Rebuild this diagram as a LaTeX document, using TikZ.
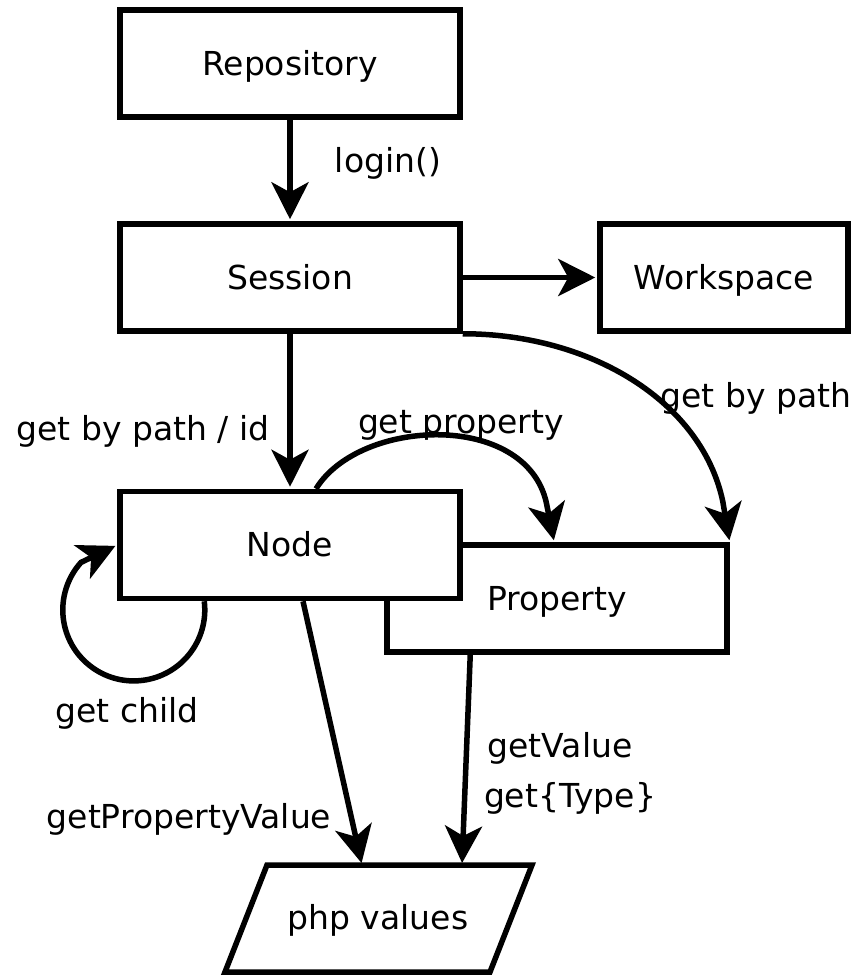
\documentclass[tikz,border=0pt]{standalone}
\usepackage{fontspec}
\setmainfont{DejaVu Sans}
\usetikzlibrary{arrows.meta,calc}
\begin{document}
\begin{tikzpicture}[x=1pt,y=-1pt,
  every node/.style={font=\fontsize{33}{40}\selectfont, text height=23pt, text depth=0pt},
  box/.style={draw, line width=5.5pt, minimum width=340pt, minimum height=107pt, inner sep=0pt, fill=white},
  conn/.style={line width=5.5pt, shorten >=2pt, -{Stealth[length=37pt,width=37pt,inset=10pt]}},
  lbl/.style={inner sep=0pt}]
\useasboundingbox (0,0) rectangle (860,975);
% boxes
\node[box] (repo) at (290,63.5) {Repository};
\node[box] (session) at (290,277.5) {Session};
\node[box, minimum width=248pt] (ws) at (724,277.5) {Workspace};
\node[box] (prop) at (557,598.5) {Property};
\node[box] (node) at (290,545) {Node};
% php values parallelogram
\coordinate (phpTL) at (267,865);
\coordinate (phpTR) at (532,865);
\coordinate (phpBR) at (490,972);
\coordinate (phpBL) at (225,972);
\draw[line width=5.5pt, line join=miter] (phpTL) -- (phpTR) -- (phpBR) -- (phpBL) -- cycle;
\node[lbl] (php) at (378,918) {php values};
% connectors
\draw[conn] (repo.south) -- (session.north);
\draw[conn] (session.east) -- (ws.west);
\draw[conn] (session.south) -- (node.north);
\draw[conn] (session.south east) .. controls +(129,0) and +(-21,-99) .. ($(prop.north east)+(-7,-41)$) -- (prop.north east);
\draw[conn] ($(node.north)+(26,0)$) .. controls +(44,-71) and +(-21,-91) .. ($(prop.north west)+(162,-40)$) -- ($(prop.north west)+(170,0)$);
\draw[conn] ($(node.south west)+(87,0)$) arc[start angle=-7, end angle=222, radius=71] -- (node.west);
\draw[conn] ($(node.south)+(13,0)$) -- ($(phpTL)+(95,0)$);
\draw[conn] ($(prop.south west)+(86,0)$) -- ($(phpTL)+(195,0)$);
% labels
\node[lbl] (l1) at (388,161) {login()};
\node[lbl] (l2) at (143,429) {get by path / id};
\node[lbl] (l3) at (461,422) {get property};
\node[lbl] (l4) at (756,396) {get by path};
\node[lbl] (l5) at (127,711) {get child};
\node[lbl] (l6) at (560,746) {getValue};
\node[lbl] (l7) at (570,796) {get\{Type\}};
\node[lbl] (l8) at (189,817) {getPropertyValue};
\end{tikzpicture}
\end{document}
